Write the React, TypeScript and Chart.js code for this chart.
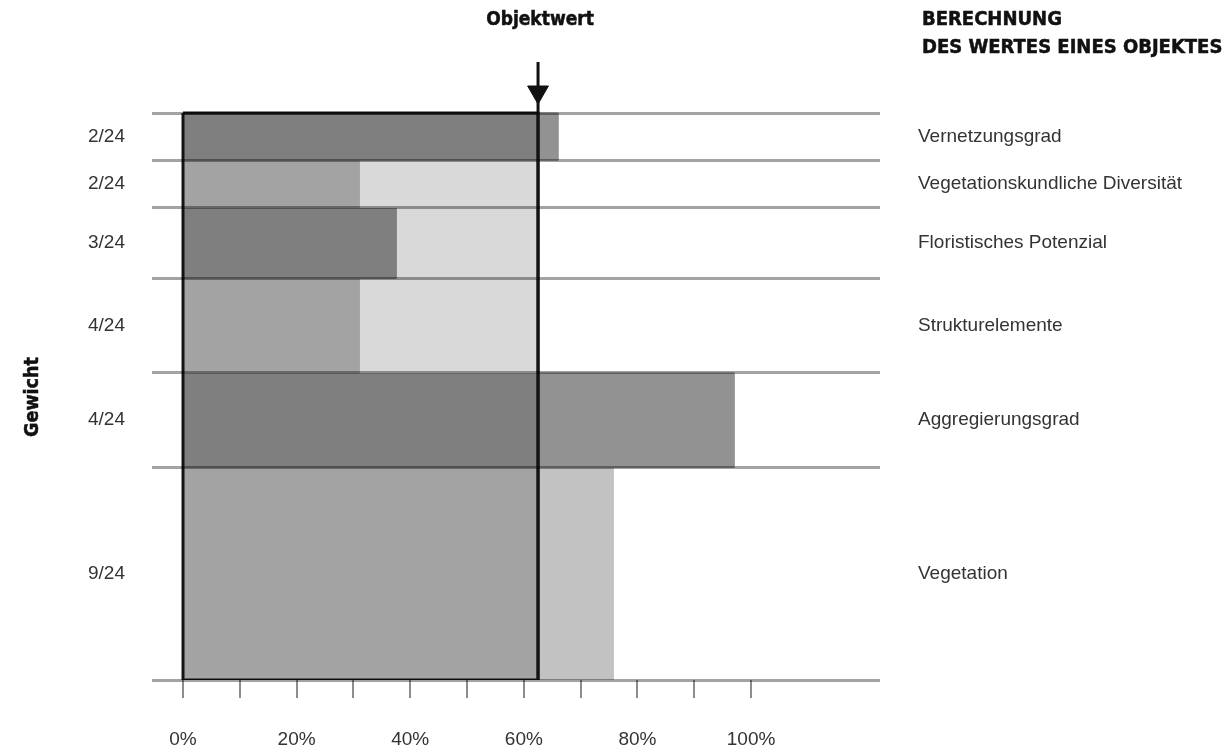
import React, { useEffect, useRef } from "react";
import { Chart, registerables } from "chart.js";

Chart.register(...registerables);

// ---- data ----
const criteria = [
  "Vernetzungsgrad",
  "Vegetationskundliche Diversität",
  "Floristisches Potenzial",
  "Strukturelemente",
  "Aggregierungsgrad",
  "Vegetation",
];
const weightLabels = ["2/24", "2/24", "3/24", "4/24", "4/24", "9/24"];
const weights = [2, 2, 3, 4, 4, 9];
const scores = [66, 31, 37.5, 31, 97, 75.7];
const objectValue = 62.5;
const xTickValues = [0, 10, 20, 30, 40, 50, 60, 70, 80, 90, 100];
const xLabelValues = [0, 20, 40, 60, 80, 100];
const xTickLabels = ["0%", "20%", "40%", "60%", "80%", "100%"];

// ---- styling / layout ----
const LABEL_FONT = '"Liberation Sans", Arial, sans-serif';
const BOLD_FONT = '"DejaVu Sans Condensed", "DejaVu Sans", sans-serif';
const Y_MIN = -2.16;
const ARROW_Y = -0.89;

export default function App() {
  const ref = useRef<HTMLCanvasElement>(null);

  useEffect(() => {
    const canvas = ref.current;
    if (!canvas) return;

    const bounds: number[] = [0];
    weights.forEach((w) => bounds.push(bounds[bounds.length - 1] + w));
    const total = bounds[bounds.length - 1];
    const centers = weights.map((w, i) => bounds[i] + w / 2);
    const leftTicks = [...bounds, ...centers].sort((a, b) => a - b);

    const rect = (x0: number, x1: number, y0: number, y1: number) => [
      { x: x0, y: y0 },
      { x: x1, y: y0 },
      { x: x1, y: y1 },
      { x: x0, y: y1 },
      { x: x0, y: y0 },
    ];
    const block = (data: any[], color: string) => ({
      data,
      showLine: true,
      fill: "shape",
      backgroundColor: color,
      borderColor: color,
      borderWidth: 1,
      pointRadius: 0,
      pointHoverRadius: 0,
      order: 2,
    });

    const datasets: any[] = [];
    scores.forEach((s, i) => {
      const y0 = bounds[i];
      const y1 = bounds[i + 1];
      const dark = i % 2 === 0;
      const base = dark ? "#7f7f7f" : "#a3a3a3";
      const surplus = dark ? "#929292" : "#c2c2c2";
      const deficit = "#d9d9d9";
      datasets.push(block(rect(0, Math.min(s, objectValue), y0, y1), base));
      if (s > objectValue) datasets.push(block(rect(objectValue, s, y0, y1), surplus));
      else datasets.push(block(rect(s, objectValue, y0, y1), deficit));
    });

    // frame around the compensated area
    datasets.push({
      data: rect(0, objectValue, 0, total),
      showLine: true,
      fill: false,
      borderColor: "#141414",
      borderWidth: 3,
      borderJoinStyle: "miter",
      pointRadius: 0,
      pointHoverRadius: 0,
      order: 0,
    });
    // Objektwert line
    datasets.push({
      data: [
        { x: objectValue, y: Y_MIN },
        { x: objectValue, y: total },
      ],
      showLine: true,
      fill: false,
      borderColor: "#111",
      borderWidth: 3,
      pointRadius: 0,
      pointHoverRadius: 0,
      order: 0,
    });
    // arrow head
    datasets.push({
      data: [{ x: objectValue, y: ARROW_Y }],
      showLine: false,
      pointStyle: "triangle",
      pointRotation: 180,
      pointRadius: 12,
      pointHoverRadius: 12,
      pointBackgroundColor: "#111",
      pointBorderColor: "#111",
      pointBorderWidth: 1,
      order: 0,
    });

    const chart = new Chart(canvas, {
      type: "scatter",
      data: { datasets },
      options: {
        responsive: false,
        animation: false,
        devicePixelRatio: 1,
        layout: { padding: { top: 62, left: 0, right: 0, bottom: 0 } },
        plugins: {
          legend: { display: false },
          tooltip: { enabled: false },
        },
        scales: {
          x: {
            type: "linear",
            position: "bottom",
            min: -5.46,
            max: 122.7,
            afterBuildTicks: (scale: any) => {
              scale.ticks = xTickValues.map((v) => ({ value: v }));
            },
            afterFit: (scale: any) => {
              scale.height = 73;
            },
            ticks: {
              autoSkip: false,
              maxRotation: 0,
              padding: 30,
              color: "#333",
              font: { family: LABEL_FONT, size: 19 },
              callback: (v: any) => {
                const i = xLabelValues.indexOf(Number(v));
                return i >= 0 ? xTickLabels[i] : "";
              },
            },
            grid: {
              drawOnChartArea: false,
              drawTicks: true,
              tickLength: 18,
              color: "#8c8c8c",
              lineWidth: 2,
            },
            border: { display: false },
          },
          y: {
            type: "linear",
            position: "left",
            reverse: true,
            min: Y_MIN,
            max: total,
            z: 1,
            afterBuildTicks: (scale: any) => {
              scale.ticks = leftTicks.map((v) => ({ value: v }));
            },
            afterFit: (scale: any) => {
              scale.width = 152;
            },
            ticks: {
              autoSkip: false,
              padding: 27,
              color: "#333",
              font: { family: LABEL_FONT, size: 19 },
              callback: (v: any) => {
                const i = centers.indexOf(Number(v));
                return i >= 0 ? weightLabels[i] : "";
              },
            },
            grid: {
              z: 1,
              drawTicks: false,
              lineWidth: 3,
              color: (ctx: any) =>
                ctx.tick && bounds.includes(ctx.tick.value) ? "rgba(0,0,0,0.36)" : "rgba(0,0,0,0)",
            },
            border: { display: false },
          },
          y2: {
            type: "linear",
            position: "right",
            reverse: true,
            min: Y_MIN,
            max: total,
            afterBuildTicks: (scale: any) => {
              scale.ticks = centers.map((v) => ({ value: v }));
            },
            afterFit: (scale: any) => {
              scale.width = 351;
            },
            ticks: {
              autoSkip: false,
              padding: 38,
              color: "#333",
              font: { family: LABEL_FONT, size: 19 },
              callback: (v: any) => {
                const i = centers.indexOf(Number(v));
                return i >= 0 ? criteria[i] : "";
              },
            },
            grid: { display: false, drawTicks: false },
            border: { display: false },
          },
        },
      } as any,
    });

    return () => chart.destroy();
  }, []);

  const boldText: React.CSSProperties = {
    position: "absolute",
    fontFamily: BOLD_FONT,
    fontWeight: "bold",
    color: "#111",
    whiteSpace: "nowrap",
    WebkitTextStroke: "0.5px #111",
  };

  return (
    <div style={{ position: "absolute", left: 0, top: 0, width: 1231, height: 753, background: "#fff" }}>
      <canvas
        ref={ref}
        width={1231}
        height={753}
        style={{ position: "absolute", left: 0, top: 0, width: 1231, height: 753 }}
      />
      <div style={{ ...boldText, left: 440, width: 200, top: 9, textAlign: "center", fontSize: 19, lineHeight: "19px" }}>
        Objektwert
      </div>
      <div style={{ ...boldText, left: 922, top: 4, fontSize: 20, lineHeight: "28px" }}>
        BERECHNUNG
        <br />
        DES WERTES EINES OBJEKTES
      </div>
      <div
        style={{
          ...boldText,
          left: 32 - 60,
          top: 397 - 12,
          width: 120,
          height: 24,
          lineHeight: "24px",
          fontSize: 19.5,
          textAlign: "center",
          transform: "rotate(-90deg)",
          transformOrigin: "50% 50%",
        }}
      >
        Gewicht
      </div>
    </div>
  );
}
